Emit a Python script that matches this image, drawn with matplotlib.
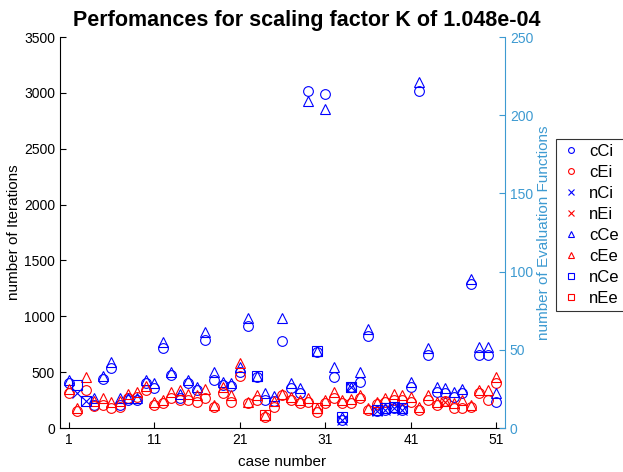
"""
Performance scatter for scaling factor K
Iterations on the left axis, evaluation functions on the right axis.
"""

import numpy as np
import matplotlib
matplotlib.use("Agg")
import matplotlib.pyplot as plt


# ==========================================================
# DATA
# ==========================================================

nan = np.nan

CASES = list(range(1, 52))

# iterations (left axis)
cCi = [405, nan, nan, 210, 440, 535, 206, 250, 250, 400,
       360, 715, 475, 265, 400, 340, 788, 430, 385, 376,
       504, 915, 457, 250, 245, 775, 355, 316, 3020, 680,
       2990, 460, 72, 365, 415, 825, 150, 165, 175, 160,
       370, 3017, 653, 325, 310, 280, 310, 1290, 653, 653,
       235]

cEi = [313, 152, 340, 195, 205, 180, 190, 265, 275, 340,
       206, 221, 265, 255, 250, 235, 265, 190, 316, 235,
       465, 221, 250, 95, 190, 295, 250, 221, 235, 146,
       227, 265, 221, 221, 265, 161, 215, 235, 250, 250,
       235, 161, 250, 206, 240, 176, 176, 190, 316, 250,
       405]

nCi = [nan, 310, 245, nan, nan, nan, nan, nan, nan, nan,
       nan, nan, nan, nan, nan, nan, nan, nan, nan, nan,
       nan, nan, nan, nan, nan, nan, nan, nan, nan, nan,
       nan, nan, 72, 365, nan, nan, 150, 165, 175, 160,
       nan, nan, nan, nan, nan, nan, nan, nan, nan, nan,
       nan]

nEi = [nan, nan, nan, nan, nan, nan, nan, nan, nan, nan,
       nan, nan, nan, nan, nan, nan, nan, nan, nan, nan,
       nan, nan, nan, nan, nan, nan, nan, nan, nan, nan,
       nan, nan, nan, nan, nan, nan, nan, nan, nan, nan,
       nan, nan, nan, nan, 230, nan, nan, nan, nan, nan,
       nan]

# evaluation functions (right axis)
cCe = [30.7, nan, nan, 19, 33, 42.4, 19, 19.5, 19, 30.7,
       29, 55, 36, 22, 31, 26.4, 61.4, 36, 29.6, 29,
       39, 70.3, 33.2, 22.2, 20.5, 70.3, 28.6, 25.4, 209, 49,
       204, 39, 7, 26.4, 36, 63.3, 11.5, 12.8, 13.6, 12.6,
       29.6, 221, 51, 26.4, 25.4, 23.2, 24.7, 95, 52, 52,
       22.2]

cEe = [25, 12.5, 32.8, 17, 19, 16.8, 17, 22, 23.2, 26.8,
       16.8, 18, 23, 24.3, 22, 21, 24.7, 14.7, 26.4, 21,
       41.4, 16.8, 21, 8.3, 17, 22, 20, 17.9, 19, 12.6,
       18, 23.2, 18, 18.5, 21, 12.6, 16.8, 19, 22, 21,
       20, 13.6, 21, 16.8, 17, 15.8, 17.9, 14.7, 24.3, 24.3,
       32.8]

nCe = [nan, 27.5, 17.5, nan, nan, nan, nan, nan, nan, nan,
       nan, nan, nan, nan, nan, nan, nan, nan, nan, nan,
       nan, nan, 33.2, nan, nan, nan, nan, nan, nan, 49,
       nan, nan, 7, 26.4, nan, nan, 11.5, 12.8, 13.6, 12.6,
       nan, nan, nan, nan, nan, nan, nan, nan, nan, nan,
       nan]

nEe = [nan, nan, nan, nan, nan, nan, nan, nan, nan, nan,
       nan, nan, nan, nan, nan, nan, nan, nan, nan, nan,
       nan, nan, nan, 8.3, nan, nan, nan, nan, nan, 12.6,
       nan, nan, nan, nan, nan, nan, nan, nan, nan, nan,
       nan, nan, nan, nan, nan, nan, nan, nan, nan, nan,
       nan]

X_TICKS = [1, 11, 21, 31, 41, 51]
LEFT_TICKS = list(range(0, 3501, 500))
RIGHT_TICKS = list(range(0, 251, 50))


# ==========================================================
# STYLE
# ==========================================================

RIGHT_COLOR = "#3d9ad1"
FONT = ["Liberation Sans", "DejaVu Sans"]

plt.rcParams["font.family"] = FONT


# ==========================================================
# PLOT
# ==========================================================

def draw():

    fig = plt.figure(figsize=(6.23, 4.72), dpi=100)
    ax = fig.add_axes([0.0963, 0.0932, 0.7143, 0.8284])
    ax2 = ax.twinx()

    mk = dict(linestyle="none", fillstyle="none", markersize=7,
              markeredgewidth=0.8)

    handles = []
    handles += ax.plot(CASES, cCi, "o", color="b", label="cCi", **mk)
    handles += ax.plot(CASES, cEi, "o", color="r", label="cEi", **mk)
    handles += ax.plot(CASES, nCi, "x", color="b", label="nCi", **mk)
    handles += ax.plot(CASES, nEi, "x", color="r", label="nEi", **mk)
    handles += ax2.plot(CASES, cCe, "^", color="b", label="cCe", **mk)
    handles += ax2.plot(CASES, cEe, "^", color="r", label="cEe", **mk)
    handles += ax2.plot(CASES, nCe, "s", color="b", label="nCe", **mk)
    handles += ax2.plot(CASES, nEe, "s", color="r", label="nEe", **mk)

    # axes limits / ticks
    ax.set_xlim(0, 52)
    ax.set_ylim(0, 3500)
    ax2.set_ylim(0, 250)

    ax.set_xticks(X_TICKS)
    ax.set_yticks(LEFT_TICKS)
    ax2.set_yticks(RIGHT_TICKS)

    ax.tick_params(direction="in", length=4, labelsize=10, width=0.8)
    ax2.tick_params(direction="in", length=4, labelsize=10, width=0.8,
                    colors=RIGHT_COLOR)

    for a in (ax, ax2):
        a.spines["top"].set_visible(False)
    ax.spines["right"].set_visible(False)
    ax2.spines["left"].set_visible(False)
    ax2.spines["bottom"].set_visible(False)
    ax2.spines["right"].set_color(RIGHT_COLOR)

    ax.set_xlabel("case number", fontsize=11, labelpad=6)
    ax.set_ylabel("number of Iterations", fontsize=11, labelpad=2)
    ax2.set_ylabel("number of Evaluation Functions", fontsize=11,
                   color=RIGHT_COLOR, labelpad=3)

    fig.text(0.493, 0.957, "Perfomances for scaling factor K of 1.048e-04",
             fontsize=15.5, fontweight="bold", ha="center", va="center")

    leg = fig.legend(handles=handles, loc="upper left",
                     bbox_to_anchor=(0.8925, 0.7055), fontsize=12,
                     frameon=True, fancybox=False, edgecolor="black",
                     markerscale=0.6, handlelength=1.2,
                     handletextpad=0.5, labelspacing=0.36,
                     borderpad=0.3, borderaxespad=0)
    leg.get_frame().set_linewidth(0.8)

    fig.savefig("out.png", dpi=100)


# ==========================================================
# MAIN
# ==========================================================

def main():

    draw()


if __name__ == "__main__":

    main()
